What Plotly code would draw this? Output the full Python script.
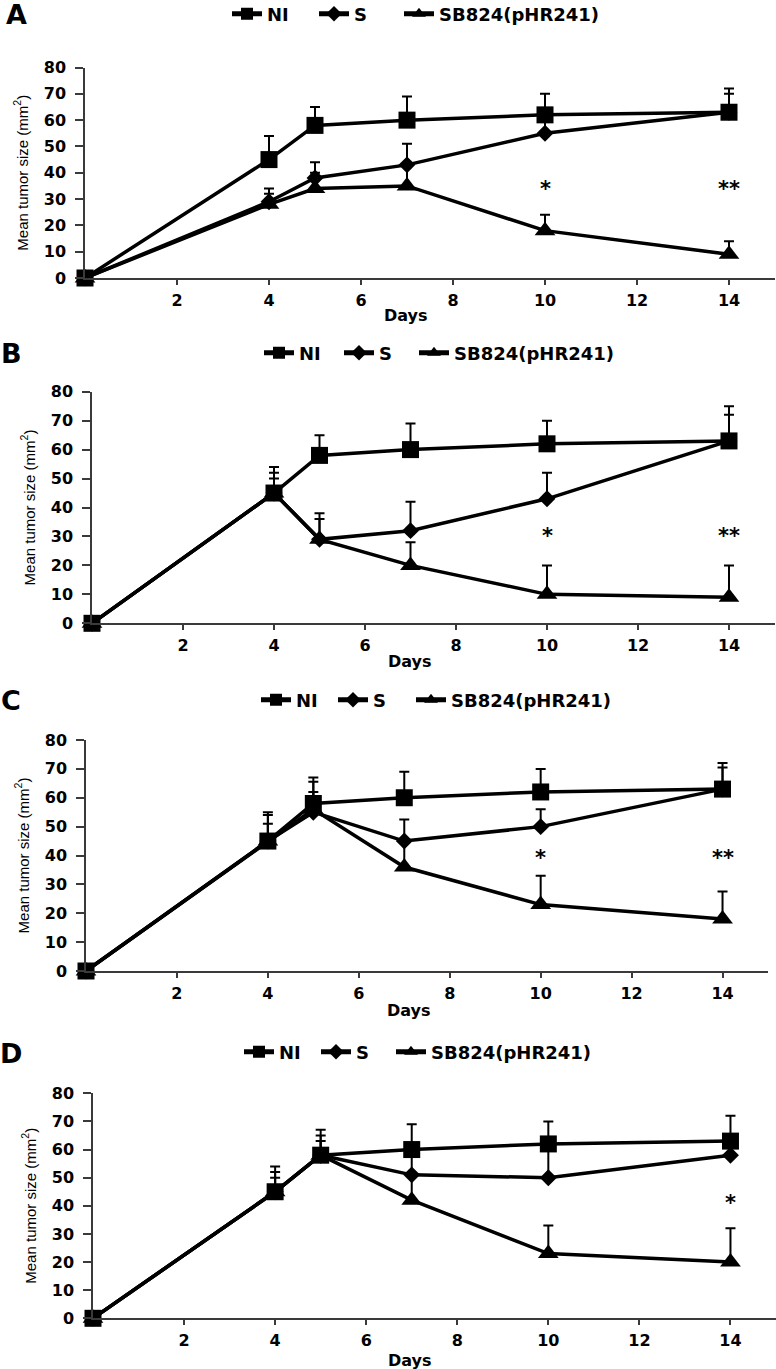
import plotly.graph_objects as go

W, H = 776, 1369

# ---------------- data ----------------
days = [0, 4, 5, 7, 10, 14]
x_tick_vals = [2, 4, 6, 8, 10, 12, 14]
y_tick_vals = [0, 10, 20, 30, 40, 50, 60, 70, 80]
series_names = ["NI", "S", "SB824(pHR241)"]
panel_labels = ["A", "B", "C", "D"]

# Panel A
ni_a = [0, 45, 58, 60, 62, 63]
ni_a_err = [0, 9, 7, 9, 8, 9]
s_a = [0, 29, 38, 43, 55, 63]
s_a_err = [0, 5, 6, 8, 7, 7]
sb_a = [0, 28, 34, 35, 18, 9]
sb_a_err = [0, 4, 6, 8, 6, 5]
star_days_a = [10, 14]
star_text_a = ["*", "**"]
star_y_a = [35.5, 35.5]

# Panel B
ni_b = [0, 45, 58, 60, 62, 63]
ni_b_err = [0, 9, 7, 9, 8, 9]
s_b = [0, 45, 29, 32, 43, 63]
s_b_err = [0, 7, 9, 10, 9, 12]
sb_b = [0, 45, 29, 20, 10, 9]
sb_b_err = [0, 5, 7, 8, 10, 11]
star_days_b = [10, 14]
star_text_b = ["*", "**"]
star_y_b = [31.5, 31.5]

# Panel C
ni_c = [0, 45, 58, 60, 62, 63]
ni_c_err = [0, 10, 9, 9, 8, 9]
s_c = [0, 45, 55, 45, 50, 63]
s_c_err = [0, 9, 10.5, 7.5, 6, 7.5]
sb_c = [0, 45, 56, 36, 23, 18]
sb_c_err = [0, 6, 6, 9, 10, 9.5]
star_days_c = [10, 14]
star_text_c = ["*", "**"]
star_y_c = [40.5, 40.5]

# Panel D
ni_d = [0, 45, 58, 60, 62, 63]
ni_d_err = [0, 9, 9, 9, 8, 9]
s_d = [0, 45, 58, 51, 50, 58]
s_d_err = [0, 7, 7, 9, 11, 4]
sb_d = [0, 45, 58, 42, 23, 20]
sb_d_err = [0, 5, 5, 9, 10, 12]
star_days_d = [14]
star_text_d = ["*"]
star_y_d = [42.3]

panels = [
    ([ni_a, s_a, sb_a], [ni_a_err, s_a_err, sb_a_err], star_days_a, star_text_a, star_y_a),
    ([ni_b, s_b, sb_b], [ni_b_err, s_b_err, sb_b_err], star_days_b, star_text_b, star_y_b),
    ([ni_c, s_c, sb_c], [ni_c_err, s_c_err, sb_c_err], star_days_c, star_text_c, star_y_c),
    ([ni_d, s_d, sb_d], [ni_d_err, s_d_err, sb_d_err], star_days_d, star_text_d, star_y_d),
]

# ---------------- layout geometry (pixels) ----------------
# left, right, top (y=80), bottom (y=0)
plot_boxes = [
    (85, 775, 67.5, 278),
    (92, 774.5, 391.7, 623.3),
    (86, 768, 740, 971),
    (93, 776, 1093.3, 1318.3),
]
# (x of first legend, entry width, x of SB legend, y centre)
legend_pos = [(227, 42, 399, 14), (259, 35, 414, 353), (256, 32, 411, 700), (239, 32, 391, 1052)]
label_pos = [(16, 15), (11, 353), (11, 700), (11, 1053)]
days_pos = [(406, 316), (410, 661), (409, 1010), (410, 1360)]

symbols = ["square", "diamond", "triangle-up"]
msizes = [17, 13, 18]

BOLD = dict(family="DejaVu Sans", weight="bold", color="black")
AX_COLOR = "#3a3a3a"

fig = go.Figure()
annotations = []
layout = dict(
    width=W, height=H,
    margin=dict(l=0, r=0, t=0, b=0, autoexpand=False),
    paper_bgcolor="white", plot_bgcolor="white",
    showlegend=True,
)


def legend_name(idx):
    return "legend" if idx == 1 else f"legend{idx}"


for i, (vals, errs, sdays, stext, sy) in enumerate(panels):
    n = i + 1
    xa = "x" if n == 1 else f"x{n}"
    ya = "y" if n == 1 else f"y{n}"
    lg_main = legend_name(2 * n - 1)
    lg_sb = legend_name(2 * n)
    for k in range(3):
        fig.add_trace(go.Scatter(
            x=days, y=vals[k], name=series_names[k],
            mode="lines+markers",
            line=dict(color="black", width=3.5),
            marker=dict(symbol=symbols[k], size=msizes[k], color="black", line=dict(width=0)),
            error_y=dict(type="data", symmetric=False, array=errs[k],
                         arrayminus=[0] * len(days), color="black", thickness=2, width=5),
            xaxis=xa, yaxis=ya, legend=(lg_sb if k == 2 else lg_main), cliponaxis=False,
        ))
    l, r, t, b = plot_boxes[i]
    layout["xaxis" if n == 1 else f"xaxis{n}"] = dict(
        domain=[l / W, r / W], range=[0, 15], anchor=ya,
        showline=True, linecolor=AX_COLOR, linewidth=1.5,
        ticks="outside", ticklen=5, tickwidth=1.5, tickcolor=AX_COLOR,
        tickvals=x_tick_vals, showgrid=False, zeroline=False,
        tickfont=dict(size=16, **BOLD), ticklabelstandoff=2, fixedrange=True,
    )
    layout["yaxis" if n == 1 else f"yaxis{n}"] = dict(
        domain=[1 - b / H, 1 - t / H], range=[0, 80], anchor=xa,
        showline=True, linecolor=AX_COLOR, linewidth=1.5,
        ticks="outside", ticklen=8, tickwidth=1.5, tickcolor=AX_COLOR,
        tickvals=y_tick_vals, showgrid=False, zeroline=False,
        tickfont=dict(size=16, **BOLD), ticklabelstandoff=6,
        title=dict(text="Mean tumor size (mm<sup>2</sup>)",
                   font=dict(family="Liberation Sans", size=15, color="black"),
                   standoff=12),
        fixedrange=True,
    )
    lx, ew, sbx, ly = legend_pos[i]
    common = dict(orientation="h", bgcolor="rgba(0,0,0,0)",
                  font=dict(size=18, **BOLD), itemsizing="constant",
                  yanchor="middle", xanchor="left", y=1 - ly / H)
    layout[lg_main] = dict(x=lx / W, entrywidth=ew, entrywidthmode="pixels", **common)
    layout[lg_sb] = dict(x=sbx / W, **common)
    px, py = label_pos[i]
    annotations.append(dict(
        text=panel_labels[i], x=px / W, y=1 - py / H, xref="paper", yref="paper",
        xanchor="center", yanchor="middle", showarrow=False,
        font=dict(size=27, **BOLD),
    ))
    dx, dy = days_pos[i]
    annotations.append(dict(
        text="Days", x=dx / W, y=1 - dy / H, xref="paper", yref="paper",
        xanchor="center", yanchor="middle", showarrow=False,
        font=dict(size=16, **BOLD),
    ))
    for sd, st, syv in zip(sdays, stext, sy):
        annotations.append(dict(
            text=st, x=sd, y=syv, xref=xa, yref=ya,
            xanchor="center", yanchor="middle", showarrow=False, yshift=-4,
            font=dict(size=21, **BOLD),
        ))

layout["annotations"] = annotations
fig.update_layout(**layout)
fig.write_html("out.html", config={"displayModeBar": False},
               post_script="document.body.style.margin='0';document.body.style.overflow='hidden';")
